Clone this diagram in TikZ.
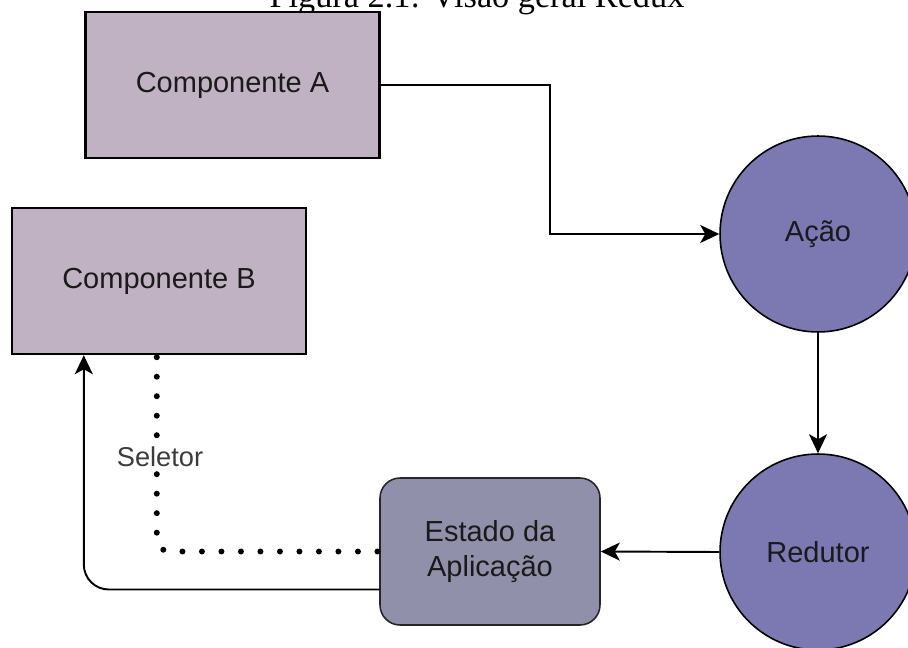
\documentclass[tikz,border=0pt]{standalone}
\usepackage{fontspec}
\setmainfont{Liberation Serif}
\setsansfont{Liberation Sans}
\usetikzlibrary{arrows.meta,calc}
\definecolor{compfill}{HTML}{C0B2C2}
\definecolor{circfill}{HTML}{7B78B2}
\definecolor{statefill}{HTML}{9190AA}
\definecolor{txt}{HTML}{1A1A1A}
\begin{document}
\begin{tikzpicture}[x=0.02cm,y=-0.02cm,
  comp/.style={draw=black, line width=1.4pt, fill=compfill, minimum width=5.88cm, minimum height=2.92cm, inner sep=0pt, font=\sffamily\fontsize{16.5}{19}\selectfont, text=txt},
  circ/.style={circle, draw=black, line width=0.9pt, fill=circfill, minimum size=3.92cm, inner sep=0pt, font=\sffamily\fontsize{16.5}{19}\selectfont, text=txt},
  statebox/.style={draw=black!85, line width=0.9pt, fill=statefill, rounded corners=0.4cm, minimum width=4.4cm, minimum height=2.94cm, inner sep=0pt, align=center, font=\sffamily\fontsize{16.5}{19.5}\selectfont, text=txt},
  flow/.style={draw=black, line width=1.1pt, -{Stealth[length=0.38cm, width=0.36cm, inset=0.1cm]}},
  dots/.style={draw=black, line width=3.4pt, line cap=round, dash pattern=on 0pt off 0.39cm}
]
\clip (0,0) rectangle (908,648);
\fill[white] (0,0) rectangle (908,648);

% caption, partly cut by the top edge
\node[anchor=base, font=\fontsize{19.5}{22}\selectfont] (title) at (477,8) {Figura 2.1: Visão geral Redux};

% nodes
\node[comp] (compA) at (232.5,85) {Componente A};
\node[comp] (compB) at (159,281) {Componente B};
\node[circ] (acao) at (818,234) {Ação};
\node[circ] (redutor) at (818,552) {Redutor};
\node[statebox] (estado) at (490,551.5) {Estado da\\Aplicação};

% connectors
\coordinate (bendA) at (550,85);
\draw[flow] (compA.east) -- (bendA) |- (acao.west);
\draw[flow] (acao.south) -- (redutor.north);
\draw[flow] (redutor.west) -- (estado.east);
\draw[flow, rounded corners=0.5cm] ($(estado.west)+(0,38)$) -| ($(compB.south west)+(73,0)$);

% selector (dotted)
\draw[dots, rounded corners=0.25cm] ($(compB.south west)+(146,2)$) |- ($(estado.west)+(0,0)$);
\node[fill=white, inner sep=1pt, font=\sffamily\fontsize{15.5}{17}\selectfont, text=txt!85] (seletor) at (160,457) {Seletor};
\end{tikzpicture}
\end{document}
